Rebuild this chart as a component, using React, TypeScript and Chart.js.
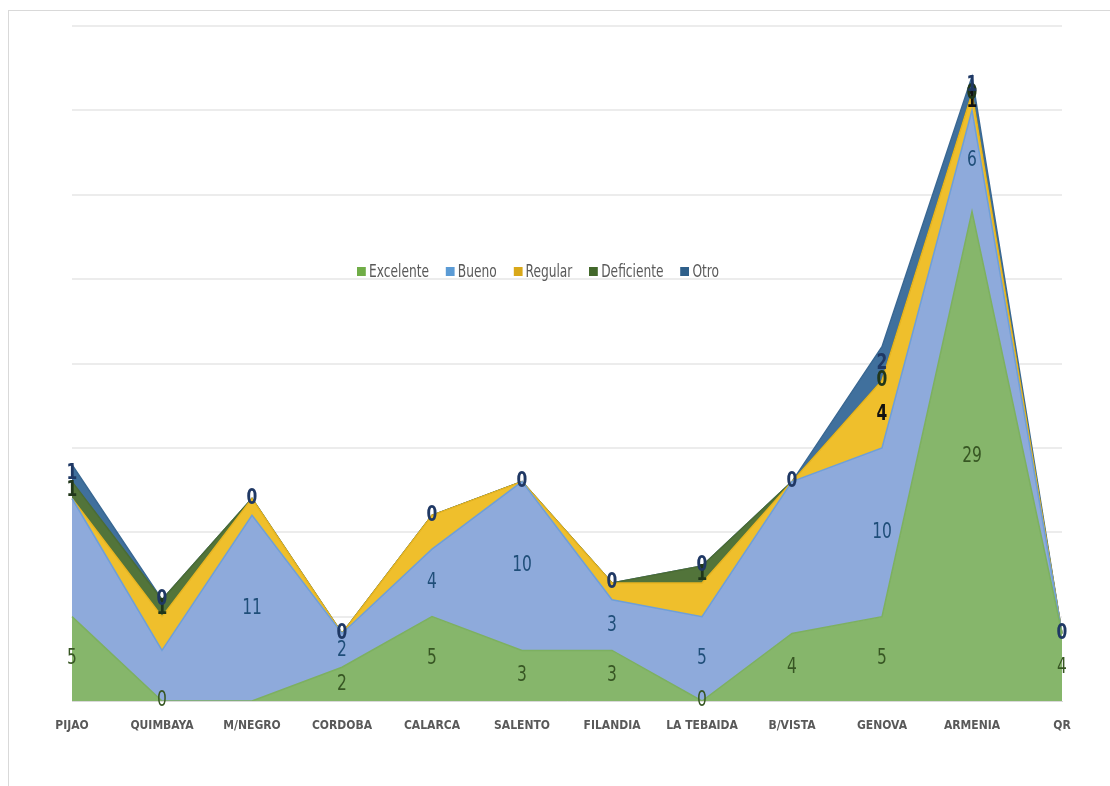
import React, { useEffect, useRef } from "react";
import { Chart, registerables } from "chart.js";

Chart.register(...registerables);

const categories = ["PIJAO", "QUIMBAYA", "M/NEGRO", "CORDOBA", "CALARCA", "SALENTO", "FILANDIA", "LA TEBAIDA", "B/VISTA", "GENOVA", "ARMENIA", "QR"];
const excelente = [5, 0, 0, 2, 5, 3, 3, 0, 4, 5, 29, 4];
const bueno = [7, 3, 11, 2, 4, 10, 3, 5, 9, 10, 6, 0];
const regular = [0, 2, 1, 0, 2, 0, 1, 2, 0, 4, 1, 0];
const deficiente = [1, 1, 0, 0, 0, 0, 0, 1, 0, 0, 0, 0];
const otro = [1, 0, 0, 0, 0, 0, 0, 0, 0, 2, 1, 0];

// which data labels are displayed (by category index)
const labelsExcelente = [0, 1, 3, 4, 5, 6, 7, 8, 9, 10, 11];
const labelsBueno = [2, 3, 4, 5, 6, 7, 9, 10];
const labelsRegular = [9, 10];
const labelsDeficiente = [0, 1, 7, 9, 10];
const labelsOtro = [0, 1, 2, 3, 4, 5, 6, 7, 8, 9, 10, 11];

const yMax = 40;
const yStep = 5;

const FONT = '"Liberation Sans Narrow", "DejaVu Sans Condensed", "Open Sans", sans-serif';

const series = [
  { name: "Excelente", data: excelente, fill: "#86b66b", border: "#7db060", legend: "#70ad47", label: "#375623", weight: "normal", shown: labelsExcelente },
  { name: "Bueno", data: bueno, fill: "#8eaadb", border: "#6e9fd8", legend: "#5b9bd5", label: "#1f4e79", weight: "normal", shown: labelsBueno },
  { name: "Regular", data: regular, fill: "#efbf2c", border: "#e7b420", legend: "#d9a819", label: "#111111", weight: "bold", shown: labelsRegular },
  { name: "Deficiente", data: deficiente, fill: "#52743a", border: "#4b6c34", legend: "#43682b", label: "#20361a", weight: "bold", shown: labelsDeficiente },
  { name: "Otro", data: otro, fill: "#40709d", border: "#3a6893", legend: "#2e5f8a", label: "#1f3864", weight: "bold", shown: labelsOtro },
];

const labelPlugin = {
  id: "areaLabels",
  afterDatasetsDraw(chart: any) {
    const ctx = chart.ctx;
    const xs = chart.scales.x;
    const ys = chart.scales.y;
    ctx.save();
    ctx.textAlign = "center";
    ctx.textBaseline = "middle";
    const cum = categories.map(() => 0);
    series.forEach((s) => {
      ctx.font = `${s.weight} 21px ${FONT}`;
      ctx.fillStyle = s.label;
      s.data.forEach((v, j) => {
        const lo = cum[j];
        const hi = cum[j] + v;
        if (s.shown.includes(j)) {
          const x = xs.getPixelForValue(j);
          const y = ys.getPixelForValue((lo + hi) / 2);
          ctx.save();
          ctx.translate(x, y);
          ctx.scale(0.82, 1);
          ctx.fillText(String(v), 0, 0);
          ctx.restore();
        }
      });
      s.data.forEach((v, j) => (cum[j] += v));
    });
    ctx.restore();
  },
};

export default function App() {
  const ref = useRef<HTMLCanvasElement | null>(null);

  useEffect(() => {
    if (!ref.current) return;
    const chart = new Chart(ref.current, {
      type: "line",
      data: {
        labels: categories,
        datasets: series.map((s, i) => ({
          label: s.name,
          data: s.data,
          backgroundColor: s.fill,
          borderColor: s.border,
          borderWidth: 1.5,
          pointRadius: 0,
          tension: 0,
          fill: i === 0 ? "origin" : "-1",
        })),
      },
      options: {
        responsive: false,
        animation: false,
        layout: { padding: { left: 63, right: 48, top: 15, bottom: 40 } },
        plugins: { legend: { display: false }, tooltip: { enabled: false } },
        scales: {
          x: {
            offset: false,
            grid: { display: false, drawTicks: false },
            border: { display: true, color: "#d9d9d9", width: 1 },
            ticks: {
              padding: 18,
              color: "#595959",
              font: { family: FONT, size: 12, weight: "bold" },
              maxRotation: 0,
              autoSkip: false,
            },
            afterFit: (s: any) => {
              s.height = 45;
            },
          },
          y: {
            stacked: true,
            min: 0,
            max: yMax,
            ticks: { display: false, stepSize: yStep },
            grid: { color: "#ececec", lineWidth: 2, drawTicks: false },
            border: { display: false },
            afterFit: (s: any) => {
              s.width = 0;
            },
          },
        },
      },
      plugins: [labelPlugin],
    });
    return () => chart.destroy();
  }, []);

  return (
    <div
      style={{
        position: "absolute",
        left: 8,
        top: 10,
        width: 1102,
        height: 776,
        boxSizing: "border-box",
        borderTop: "1px solid #d9d9d9",
        borderLeft: "1px solid #d9d9d9",
        background: "#ffffff",
      }}
    >
      <canvas ref={ref} width={1101} height={775} style={{ position: "absolute", left: 0, top: 0 }} />
      <div
        style={{
          position: "absolute",
          left: 348,
          top: 250,
          display: "flex",
          alignItems: "center",
          gap: 21,
          fontFamily: FONT,
          fontSize: 17,
          color: "#595959",
          whiteSpace: "nowrap",
          transform: "scaleX(0.8)",
          transformOrigin: "left center",
        }}
      >
        {series.map((s) => (
          <div key={s.name} style={{ display: "flex", alignItems: "center", gap: 4 }}>
            <span style={{ display: "inline-block", width: 11, height: 9, background: s.legend }} />
            <span>{s.name}</span>
          </div>
        ))}
      </div>
    </div>
  );
}
